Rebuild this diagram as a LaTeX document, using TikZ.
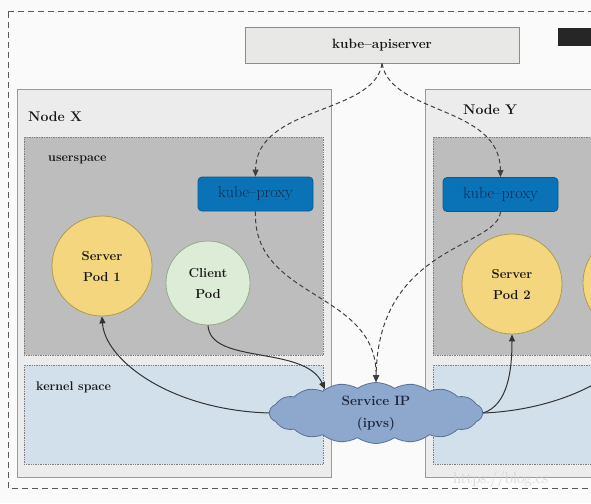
\documentclass[tikz,border=0pt]{standalone}
\usepackage{fontspec}
\usetikzlibrary{shapes.symbols,arrows.meta}
\definecolor{bg}{HTML}{FAFAFA}
\definecolor{machfill}{HTML}{ECECEC}
\definecolor{machline}{HTML}{9A9A9A}
\definecolor{userfill}{HTML}{BDBDBD}
\definecolor{kernfill}{HTML}{D2E0EC}
\definecolor{dotline}{HTML}{7E7E7E}
\definecolor{apifill}{HTML}{E8E8E6}
\definecolor{proxyfill}{HTML}{0A73B8}
\definecolor{proxyline}{HTML}{0A5A90}
\definecolor{proxytext}{HTML}{0D2D4A}
\definecolor{podfill}{HTML}{F4D67E}
\definecolor{podline}{HTML}{B09A50}
\definecolor{clientfill}{HTML}{DCECD6}
\definecolor{clientline}{HTML}{8FAE89}
\definecolor{cloudfill}{HTML}{8EA7CC}
\definecolor{cloudline}{HTML}{5B7098}
\definecolor{cloudtext}{HTML}{1C2640}
\definecolor{arrowcol}{HTML}{333333}
\definecolor{txt}{HTML}{161616}
\definecolor{wmcol}{HTML}{D4D4D4}
\begin{document}
\begin{tikzpicture}[x=1pt,y=-1pt,
  outer/.style={draw=black!65, line width=1pt, dash pattern=on 6pt off 4pt},
  apibox/.style={draw=black!45, fill=apifill, line width=0.9pt, minimum width=274pt, minimum height=36pt, inner sep=0pt, font=\fontsize{13.5}{15}\selectfont\bfseries, text=txt},
  machine/.style={draw=machline, fill=machfill, line width=0.9pt, anchor=north west, inner sep=0pt, minimum width=314pt, minimum height=388pt},
  userbox/.style={draw=dotline, fill=userfill, densely dotted, line width=0.7pt, anchor=north west, inner sep=0pt, minimum width=299pt, minimum height=218pt},
  kernbox/.style={draw=dotline, fill=kernfill, densely dotted, line width=0.7pt, anchor=north west, inner sep=0pt, minimum width=299pt, minimum height=99pt},
  proxybox/.style={draw=proxyline, fill=proxyfill, rounded corners=4pt, line width=0.8pt, minimum width=115pt, minimum height=34pt, inner sep=0pt, text=proxytext, font=\fontsize{16}{18}\selectfont},
  serverpod/.style={circle, draw=podline, fill=podfill, line width=0.8pt, minimum size=100pt, inner sep=0pt, align=center, text=txt, font=\fontsize{13}{21}\selectfont\bfseries},
  clientpod/.style={circle, draw=clientline, fill=clientfill, line width=0.8pt, minimum size=84pt, inner sep=0pt, align=center, text=txt, font=\fontsize{13}{21}\selectfont\bfseries},
  svcloud/.style={cloud, cloud puffs=18, cloud puff arc=70, aspect=3.5, draw=cloudline, fill=cloudfill, line width=0.8pt, minimum width=213pt, minimum height=61pt, inner sep=0pt, align=center, text=cloudtext, font=\fontsize{13.5}{22}\selectfont\bfseries},
  lbl/.style={anchor=west, inner sep=0pt, text=txt, font=\fontsize{14}{16}\selectfont\bfseries},
  sublbl/.style={anchor=west, inner sep=0pt, text=txt, font=\fontsize{12.5}{14}\selectfont\bfseries},
  ctrl/.style={draw=black!75, line width=1pt, dash pattern=on 4.5pt off 3pt, -{Triangle[length=7pt,width=6pt]}},
  flow/.style={draw=arrowcol, line width=1pt, -{Triangle[length=7pt,width=6pt]}},
  wm/.style={anchor=west, inner sep=0pt, text=wmcol, font=\fontsize{16}{18}\selectfont}
]
\useasboundingbox (0,0) rectangle (591,503);
\clip (0,0) rectangle (591,503);
\fill[bg] (0,0) rectangle (591,503);
\draw[outer] (8,12) rectangle (700,488);
\fill[black!85] (558,28) rectangle (600,46);

% apiserver
\node[apibox] (api) at (382,45) {kube--apiserver};

% machines
\node[machine] (nx) at (17,89) {};
\node[userbox] (ux) at (24,137) {};
\node[kernbox] (kx) at (24,365) {};
\node[machine] (ny) at (425,89) {};
\node[userbox] (uy) at (433,137) {};
\node[kernbox] (ky) at (433,365) {};

\node[lbl] (nxl) at (28,117) {Node X};
\node[lbl] (nyl) at (463,110) {Node Y};
\node[sublbl] (uxl) at (48,160) {userspace};
\node[sublbl] (kxl) at (36,387) {kernel space};

% proxies
\node[proxybox] (kpx) at (255.5,194) {kube--proxy};
\node[proxybox] (kpy) at (500.5,194.5) {kube--proxy};

% pods
\node[serverpod] (sp1) at (102,266) {Server\\Pod 1};
\node[clientpod] (cp) at (208,283) {Client\\Pod};
\node[serverpod] (sp2) at (512,284) {Server\\Pod 2};
\node[serverpod] (sp3) at (633,283) {};

% service
\node[svcloud] (svc) at (376,413) {Service IP\\(ipvs)};

% watermark
\node[wm] (wmk) at (453,479) {https://blog.cs};

% control connections
\draw[ctrl] (api.south) .. controls (375,115) and (256,105) .. (kpx.north);
\draw[ctrl] (api.south) .. controls (391,115) and (500,105) .. (kpy.north);
\draw[ctrl] (kpx.south) .. controls (252,300) and (377,290) .. (svc.north);
\draw[ctrl] (kpy.south) .. controls (497,248) and (378,245) .. (svc.north);

% traffic
\draw[flow] (cp.south) .. controls (210,365) and (305,345) .. (svc.155);
\draw[flow] (svc.west) .. controls (170,410) and (105,360) .. (sp1.south);
\draw[flow] (svc.east) .. controls (508,405) and (512,370) .. (sp2.south);
\draw[flow] (svc.east) .. controls (560,410) and (630,375) .. (sp3.south);
\end{tikzpicture}
\end{document}
